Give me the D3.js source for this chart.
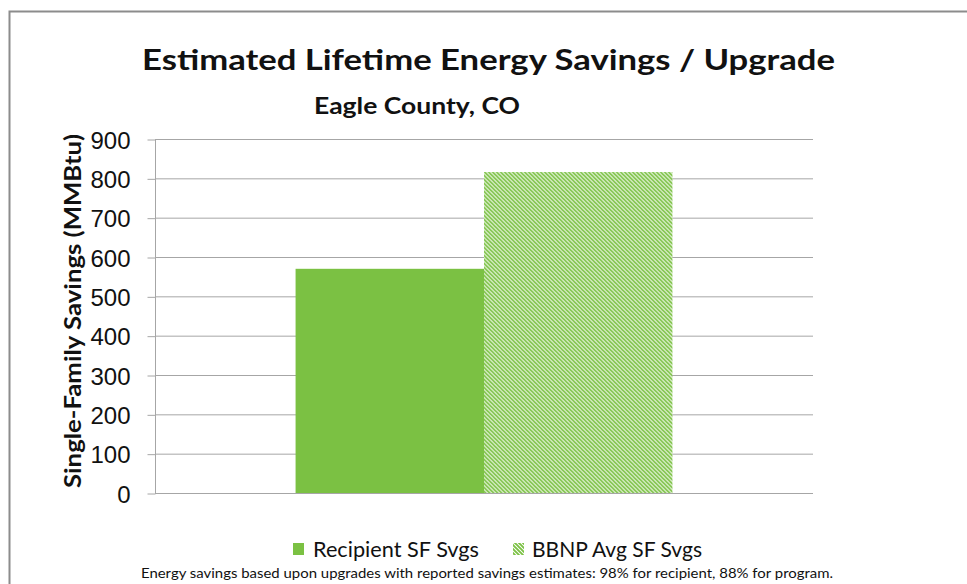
<!DOCTYPE html>
<html>
<head>
<meta charset="utf-8">
<script src="https://cdn.jsdelivr.net/npm/d3@7"></script>
<style>
  body { margin: 0; background: #fff; }
  svg { display: block; font-family: "Lato", "Open Sans", sans-serif; }
  .tick text { font-size: 24px; fill: #111; }
</style>
</head>
<body>
<svg width="967" height="584"></svg>
<script>
// data
var categories = ["Eagle County, CO"];
var seriesNames = ["Recipient SF Svgs", "BBNP Avg SF Svgs"];
var recipientValues = [570];
var bbnpValues = [816];
var yTicks = [0, 100, 200, 300, 400, 500, 600, 700, 800, 900];

var green = "#7bc143";

var margin = {top: 139, right: 154, bottom: 91, left: 155},
    width = 967 - margin.left - margin.right,
    height = 584 - margin.top - margin.bottom;

var svg = d3.select("svg");

// hatch pattern for the program average
var defs = svg.append("defs");
var pat = defs.append("pattern")
    .attr("id", "hatch")
    .attr("patternUnits", "userSpaceOnUse")
    .attr("width", 4)
    .attr("height", 4);
pat.append("rect").attr("width", 4).attr("height", 4).attr("fill", "#fff");
pat.append("path")
    .attr("d", "M-1,-1 L5,5 M-1,3 L1,5 M3,-1 L5,1")
    .attr("stroke", green)
    .attr("stroke-width", 1.9);

// outer border
svg.append("rect")
    .attr("x", 9.5).attr("y", 11.5)
    .attr("width", 1000).attr("height", 1000)
    .attr("fill", "none")
    .attr("stroke", "#8c8c8c")
    .attr("stroke-width", 2);

function fit(sel, w) {
  sel.attr("textLength", w).attr("lengthAdjust", "spacingAndGlyphs");
}

svg.append("text")
    .attr("x", 142).attr("y", 70)
    .style("font-size", "29px").style("font-weight", "bold").attr("fill", "#111")
    .text("Estimated Lifetime Energy Savings / Upgrade")
    .call(fit, 693);

svg.append("text")
    .attr("x", 314).attr("y", 114)
    .style("font-size", "23px").style("font-weight", "bold").attr("fill", "#111")
    .text(categories[0])
    .call(fit, 206);

var g = svg.append("g")
    .attr("transform", "translate(" + margin.left + "," + margin.top + ")");

var x0 = d3.scaleBand().domain(categories).range([0, width])
    .paddingInner(0).paddingOuter(0.373);
var x1 = d3.scaleBand().domain(seriesNames).range([0, x0.bandwidth()]);
var y = d3.scaleLinear().domain([0, 900]).range([height, 0]);

// gridlines
g.selectAll(".grid")
    .data(yTicks.filter(function(d) { return d > 0; }))
  .enter().append("line")
    .attr("x1", 0).attr("x2", width)
    .attr("y1", function(d) { return y(d) + 0.5; })
    .attr("y2", function(d) { return y(d) + 0.5; })
    .attr("stroke", "#a6a6a6");

var yAxis = d3.axisLeft(y).tickValues(yTicks).tickSize(8).tickPadding(17);
var ya = g.append("g").attr("transform", "translate(0.5,0.5)").call(yAxis);
ya.selectAll("line, path").attr("stroke", "#a6a6a6");
ya.select(".domain").attr("d", "M0," + y(900) + "V" + height);
ya.selectAll("text").attr("dy", "0.36em");

var rows = categories.map(function(c, i) {
  return [
    {cat: c, key: seriesNames[0], value: recipientValues[i]},
    {cat: c, key: seriesNames[1], value: bbnpValues[i]}
  ];
});

g.selectAll(".grp")
    .data(rows)
  .enter().append("g")
    .attr("transform", function(d) { return "translate(" + x0(d[0].cat) + ",0)"; })
  .selectAll("rect")
    .data(function(d) { return d; })
  .enter().append("rect")
    .attr("x", function(d) { return x1(d.key); })
    .attr("width", x1.bandwidth())
    .attr("y", function(d) { return y(d.value); })
    .attr("height", function(d) { return height - y(d.value); })
    .attr("fill", function(d, i) { return i == 0 ? green : "url(#hatch)"; });

// x axis baseline
g.append("line")
    .attr("x1", 0).attr("x2", width)
    .attr("y1", height + 0.5).attr("y2", height + 0.5)
    .attr("stroke", "#a6a6a6");

svg.append("text")
    .attr("transform", "translate(81,311) rotate(-90)")
    .attr("text-anchor", "middle")
    .style("font-size", "22px").style("font-weight", "bold").attr("fill", "#111")
    .text("Single-Family Savings (MMBtu)")
    .call(fit, 354);

// legend
var legend = [
  {name: seriesNames[0], sx: 293, tx: 313, tw: 166, fill: green},
  {name: seriesNames[1], sx: 513, tx: 532, tw: 170, fill: "url(#hatch)"}
];
legend.forEach(function(l) {
  svg.append("rect")
      .attr("x", l.sx).attr("y", 543).attr("width", 11).attr("height", 12)
      .attr("fill", l.fill);
  svg.append("text")
      .attr("x", l.tx).attr("y", 557)
      .style("font-size", "21px").attr("fill", "#111")
      .text(l.name)
      .call(fit, l.tw);
});

svg.append("text")
    .attr("x", 141).attr("y", 578)
    .style("font-size", "13px").attr("fill", "#111")
    .text("Energy savings based upon upgrades with reported savings estimates: 98% for recipient, 88% for program.")
    .call(fit, 692);
</script>
</body>
</html>
